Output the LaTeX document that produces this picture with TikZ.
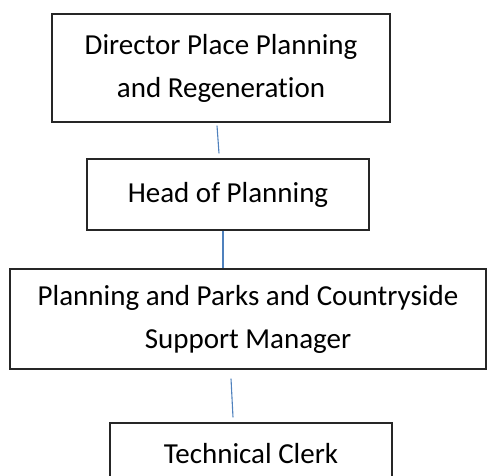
\documentclass[tikz,border=0pt]{standalone}
\usepackage{fontspec}
\setmainfont{Carlito}[Ligatures=NoCommon]
\usepackage{xcolor}
\usetikzlibrary{positioning}

\definecolor{linkblue}{HTML}{4F81BD}

\begin{document}
\begin{tikzpicture}[
    x=1pt, y=-1pt,
    post/.style={rectangle, draw=black!85, line width=1.3pt, fill=white, align=center, inner sep=0pt, font=\fontsize{29}{43}\selectfont},
    link/.style={draw=linkblue, line width=1.1pt}
]
    \useasboundingbox (0,0) rectangle (487,475);

    \node[post, minimum width=338pt, minimum height=108pt] (director) at (221,68) {Director Place Planning\\and Regeneration};
    \node[post, minimum width=282pt, minimum height=71pt] (head) at (228,194.5) {Head of Planning};
    \node[post, minimum width=476pt, minimum height=100pt] (support) at (248,319) {Planning and Parks and Countryside\\Support Manager};
    \node[post, minimum width=282pt, minimum height=62pt] (clerk) at (251,454) {Technical Clerk};

    \draw[link] ([xshift=-4pt, yshift=-3pt]director.south) -- ([xshift=-9pt, yshift=5pt]head.north);
    \draw[link] ([xshift=-5pt]head.south) -- ([xshift=-25pt]support.north);
    \draw[link] ([xshift=-17pt, yshift=-9pt]support.south) -- ([xshift=-18pt, yshift=5pt]clerk.north);
\end{tikzpicture}
\end{document}
